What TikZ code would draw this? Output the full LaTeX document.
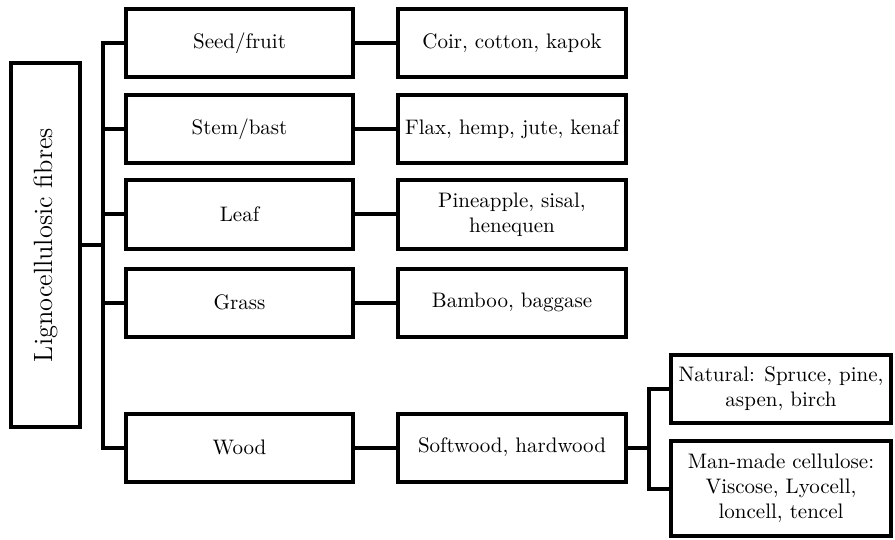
\documentclass[tikz,border=0pt]{standalone}
\usepackage{tikz}
\tikzset{
  fibrebox/.style={draw, line width=2pt, align=center, inner sep=1pt,
    font=\fontsize{10.5}{12.5}\selectfont},
  link/.style={line width=2pt}
}
\begin{document}
\begin{tikzpicture}[x=0.5pt, y=-0.5pt, line join=miter]
  \useasboundingbox (0,0) rectangle (895,540);
  % root
  \node [fibrebox, rotate=90, minimum width=182pt, minimum height=34.5pt,
    font=\fontsize{13.2}{15}\selectfont] (root) at (45.5,245) {Lignocellulosic fibres};
  % first level
  \node [fibrebox, minimum width=113.5pt, minimum height=34pt] (seed) at (239.5,43) {Seed/fruit};
  \node [fibrebox, minimum width=113.5pt, minimum height=34pt] (stem) at (239.5,129.5) {Stem/bast};
  \node [fibrebox, minimum width=113.5pt, minimum height=34pt] (leaf) at (239.5,214.5) {Leaf};
  \node [fibrebox, minimum width=113.5pt, minimum height=34pt] (grass) at (239.5,302.5) {Grass};
  \node [fibrebox, minimum width=113.5pt, minimum height=34pt] (wood) at (239.5,447.5) {Wood};
  % second level
  \node [fibrebox, minimum width=114pt, minimum height=34pt] (coir) at (512,43) {Coir, cotton, kapok};
  \node [fibrebox, minimum width=114pt, minimum height=34pt] (flax) at (512,129.5) {Flax, hemp, jute, kenaf};
  \node [fibrebox, minimum width=114pt, minimum height=34pt] (pine) at (512,214.5) {Pineapple, sisal,\\henequen};
  \node [fibrebox, minimum width=114pt, minimum height=34pt] (bamboo) at (512,302.5) {Bamboo, baggase};
  \node [fibrebox, minimum width=114pt, minimum height=34pt] (soft) at (512,447.5) {Softwood, hardwood};
  % third level
  \node [fibrebox, minimum width=110pt, minimum height=34pt] (natural) at (781,389) {Natural: Spruce, pine,\\aspen, birch};
  \node [fibrebox, minimum width=110pt, minimum height=47.5pt] (manmade) at (781,488.5) {Man-made cellulose:\\Viscose, Lyocell,\\loncell, tencel};
  \coordinate (trunk) at (103,0);
  \coordinate (split) at (649,0);
  \draw [link] (root.south) -- (root.south -| trunk);
  \draw [link] (seed.west) -- (seed.west -| trunk) -- (wood.west -| trunk) -- (wood.west);
  \foreach \n in {stem, leaf, grass}
    \draw [link] (\n.west -| trunk) -- (\n.west);
  \draw [link] (seed) -- (coir);
  \draw [link] (stem) -- (flax);
  \draw [link] (leaf) -- (pine);
  \draw [link] (grass) -- (bamboo);
  \draw [link] (wood) -- (soft);
  \draw [link] (soft.east) -- (soft.east -| split);
  \draw [link] (natural.west) -- (natural.west -| split) -- (manmade.west -| split) -- (manmade.west);
\end{tikzpicture}
\end{document}
